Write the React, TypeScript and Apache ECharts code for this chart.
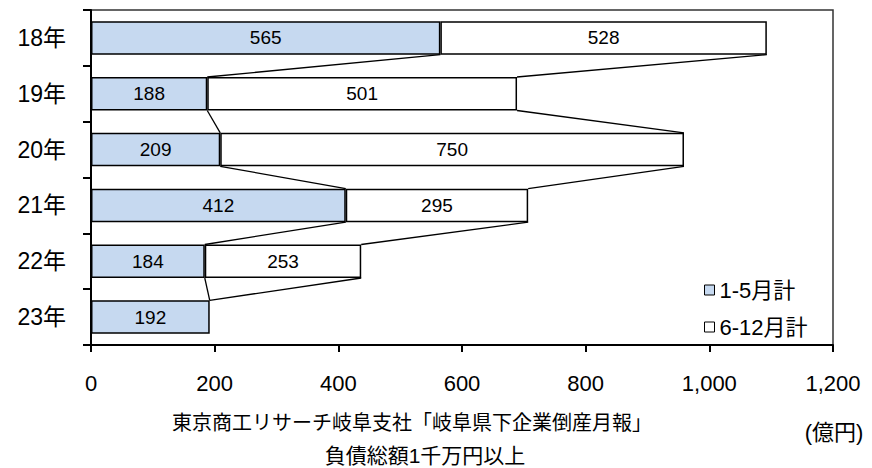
import React, { useEffect, useRef } from "react";
import * as echarts from "echarts";

const years = ["18年", "19年", "20年", "21年", "22年", "23年"];
const janMay = [565, 188, 209, 412, 184, 192];
const junDec: (number | null)[] = [528, 501, 750, 295, 253, null];
const seriesNames = ["1-5月計", "6-12月計"];
const xMin = 0;
const xMax = 1200;
const xStep = 200;
const sourceLine1 = "東京商工リサーチ岐阜支社「岐阜県下企業倒産月報」";
const sourceLine2 = "負債総額1千万円以上";
const unitLabel = "(億円)";

const FONT = "'Liberation Sans', Arial, 'Noto Sans CJK JP', sans-serif";

export default function App() {
  const ref = useRef<HTMLDivElement>(null);
  useEffect(() => {
    if (!ref.current) return;
    const chart = echarts.init(ref.current, undefined, { renderer: "svg" });
    const cum1 = janMay.map((v) => v);
    const cum2 = janMay.map((v, i) => v + (junDec[i] ?? 0));
    const connectors: number[][] = [];
    for (let i = 0; i < years.length - 1; i++) {
      connectors.push([i, cum1[i], cum1[i + 1]]);
      connectors.push([i, cum2[i], cum2[i + 1]]);
    }
    chart.setOption({
      animation: false,
      textStyle: { fontFamily: FONT },
      grid: {
        left: 91,
        right: 39,
        top: 10,
        bottom: 123,
        show: true,
        borderColor: "#333",
        borderWidth: 1.5,
        backgroundColor: "transparent",
      },
      legend: {
        data: seriesNames,
        orient: "vertical",
        left: 699,
        top: 274,
        icon: "rect",
        itemWidth: 10,
        itemHeight: 10,
        itemGap: 15,
        textStyle: { fontSize: 22, color: "#000", fontFamily: FONT },
        itemStyle: { borderColor: "#000", borderWidth: 1 },
      },
      xAxis: {
        type: "value",
        min: xMin,
        max: xMax,
        interval: xStep,
        splitLine: { show: false },
        axisLine: { show: true, onZero: false, lineStyle: { color: "#000", width: 2 } },
        axisTick: { show: true, length: 7, lineStyle: { color: "#000", width: 2 } },
        axisLabel: {
          fontSize: 22,
          color: "#000",
          margin: 27,
          formatter: (v: number) => v.toLocaleString("en-US"),
        },
      },
      yAxis: {
        type: "category",
        data: years,
        inverse: true,
        axisLine: { show: true, lineStyle: { color: "#000", width: 2 } },
        axisTick: { show: true, length: 8, lineStyle: { color: "#000", width: 2 } },
        axisLabel: { fontSize: 23, color: "#000", margin: 25 },
      },
      series: [
        {
          type: "bar",
          name: seriesNames[0],
          stack: "total",
          data: janMay,
          barWidth: "60%",
          itemStyle: { color: "#c6d9f0", borderColor: "#000", borderWidth: 1.5 },
          label: { show: true, position: "inside", color: "#000", fontSize: 19 },
        },
        {
          type: "bar",
          name: seriesNames[1],
          stack: "total",
          data: junDec,
          barWidth: "60%",
          itemStyle: { color: "#ffffff", borderColor: "#000", borderWidth: 1.5 },
          label: { show: true, position: "inside", color: "#000", fontSize: 19 },
        },
        {
          type: "custom",
          name: "connectors",
          silent: true,
          data: connectors,
          encode: { x: [1, 2], y: 0 },
          renderItem: (params: any, api: any) => {
            const i = api.value(0);
            const a = api.value(1);
            const b = api.value(2);
            const p1 = api.coord([a, i]);
            const p2 = api.coord([b, i + 1]);
            const h = api.size([0, 1])[1] * 0.3;
            return {
              type: "line",
              shape: { x1: p1[0], y1: p1[1] + h, x2: p2[0], y2: p2[1] - h },
              style: { stroke: "#000", lineWidth: 1.3 },
            };
          },
        },
      ],
      graphic: [
        {
          type: "text",
          x: 412,
          y: 423,
          style: {
            text: sourceLine1,
            fontSize: 20,
            fontFamily: FONT,
            fill: "#000",
            align: "center",
            verticalAlign: "middle",
          },
        },
        {
          type: "text",
          x: 425,
          y: 455,
          style: {
            text: sourceLine2,
            fontSize: 21,
            fontFamily: FONT,
            fill: "#000",
            align: "center",
            verticalAlign: "middle",
          },
        },
        {
          type: "text",
          x: 834,
          y: 432,
          style: {
            text: unitLabel,
            fontSize: 22,
            fontFamily: FONT,
            fill: "#000",
            align: "center",
            verticalAlign: "middle",
          },
        },
      ],
    });
    return () => chart.dispose();
  }, []);
  return (
    <div
      ref={ref}
      style={{ position: "fixed", left: 0, top: 0, width: 872, height: 468, background: "#fff" }}
    />
  );
}
